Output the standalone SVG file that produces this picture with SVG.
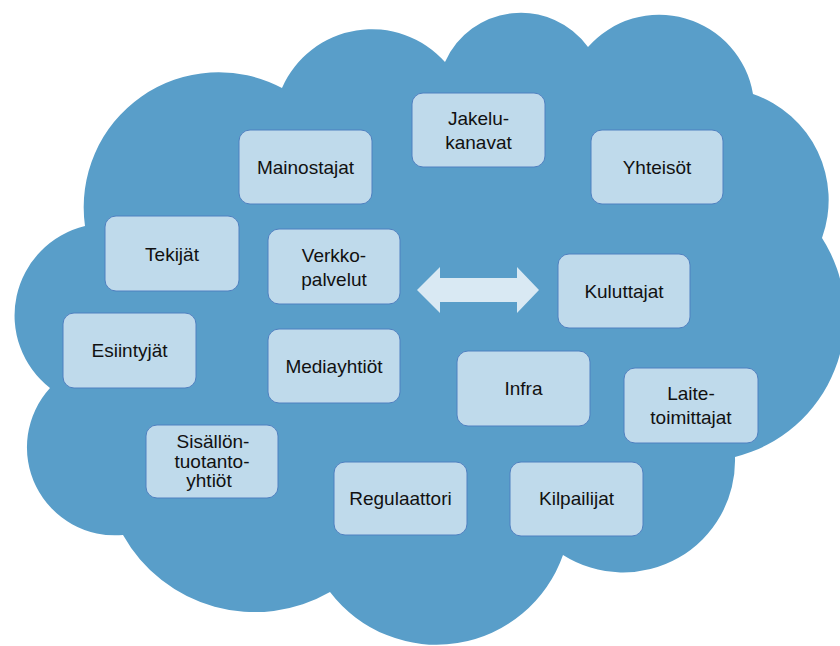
<svg xmlns="http://www.w3.org/2000/svg" width="840" height="646" viewBox="0 0 840 646">
<style>
.box{fill:#bfdaeb;stroke:#4f80c0;stroke-width:1}
.t{font-family:"Liberation Sans",Arial,Helvetica,sans-serif;font-size:19px;fill:#111;text-anchor:middle}
</style>
<rect width="840" height="646" fill="#ffffff"/>
<path id="cloud" d="M85,226 A135,135 0 0 1 282,88 A98,98 0 0 1 445,62 A83,83 0 0 1 588,47 A95,95 0 0 1 753,94 A112,112 0 0 1 822,238 A145,145 0 0 1 735,457 A112,112 0 0 1 563,555 A134,134 0 0 1 330,592 A151,151 0 0 1 123,535 A88,88 0 0 1 50,388 A92,92 0 0 1 85,226 Z" fill="#599ec9"/>
<g id="connectors">
<polygon points="417,290 440,267 440,278 517,278 517,267 539,290 517,313 517,302 440,302 440,313" fill="#d9e9f3"/>
</g>
<g id="mainostajat"><rect class="box" x="239" y="130" width="133" height="74" rx="11"/><text class="t" x="305.5" y="174">Mainostajat</text></g>
<g id="jakelukanavat"><rect class="box" x="412" y="93" width="133" height="74" rx="11"/><text class="t" x="478.5" y="125">Jakelu-</text><text class="t" x="478.5" y="148.5">kanavat</text></g>
<g id="yhteisot"><rect class="box" x="591" y="130" width="132" height="74" rx="11"/><text class="t" x="657" y="174">Yhteisöt</text></g>
<g id="tekijat"><rect class="box" x="105" y="216" width="134" height="75" rx="11"/><text class="t" x="172" y="261">Tekijät</text></g>
<g id="verkkopalvelut"><rect class="box" x="268" y="229" width="132" height="75" rx="11"/><text class="t" x="334" y="262">Verkko-</text><text class="t" x="334" y="286">palvelut</text></g>
<g id="kuluttajat"><rect class="box" x="558" y="254" width="132" height="74" rx="11"/><text class="t" x="624" y="298">Kuluttajat</text></g>
<g id="esiintyjat"><rect class="box" x="63" y="313" width="133" height="75" rx="11"/><text class="t" x="129.5" y="357">Esiintyjät</text></g>
<g id="mediayhtiot"><rect class="box" x="268" y="329" width="132" height="74" rx="11"/><text class="t" x="334" y="373">Mediayhtiöt</text></g>
<g id="infra"><rect class="box" x="457" y="351" width="133" height="75" rx="11"/><text class="t" x="523.5" y="395">Infra</text></g>
<g id="laitetoimittajat"><rect class="box" x="624" y="368" width="134" height="75" rx="11"/><text class="t" x="691" y="400">Laite-</text><text class="t" x="691" y="424">toimittajat</text></g>
<g id="sisallontuotantoyhtiot"><rect class="box" x="146" y="425" width="132" height="73" rx="11"/><text class="t" x="213" y="448">Sisällön-</text><text class="t" x="212" y="468">tuotanto-</text><text class="t" x="209" y="487">yhtiöt</text></g>
<g id="regulaattori"><rect class="box" x="334" y="462" width="133" height="73" rx="11"/><text class="t" x="400.5" y="505">Regulaattori</text></g>
<g id="kilpailijat"><rect class="box" x="510" y="462" width="133" height="74" rx="11"/><text class="t" x="576.5" y="505">Kilpailijat</text></g>
</svg>
